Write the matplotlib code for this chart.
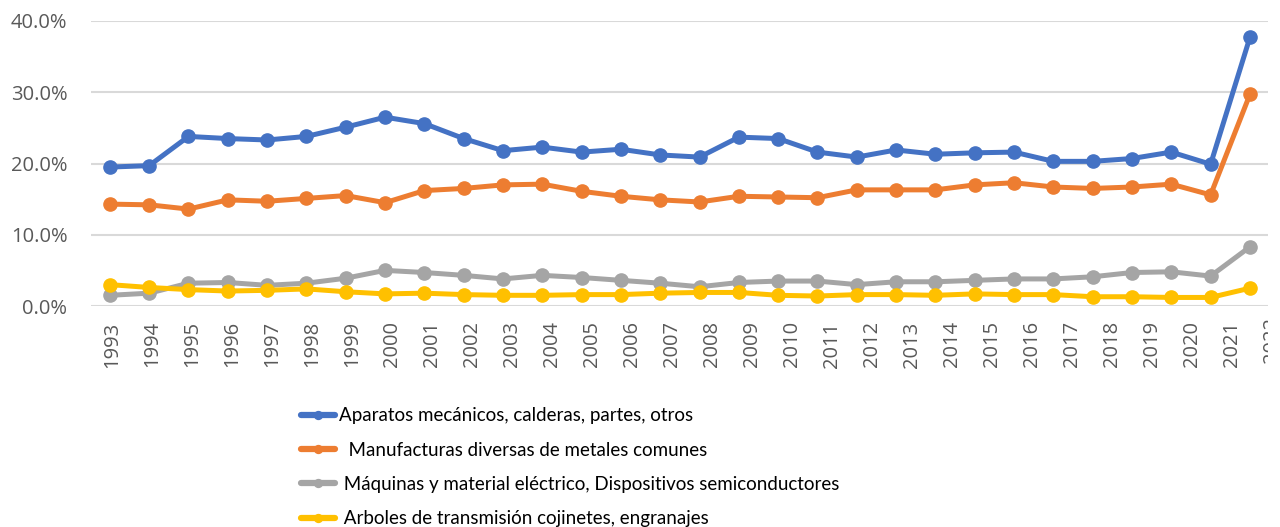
import matplotlib

matplotlib.use("Agg")
import matplotlib.pyplot as plt
from matplotlib.ticker import PercentFormatter
from matplotlib.transforms import Bbox, TransformedBbox
import numpy as np

BLUE = "#4472C4"
ORANGE = "#ED7D31"
GRAY = "#A5A5A5"
YELLOW = "#FFC000"
GRID = "#D9D9D9"
TXT = "#595959"

years = [str(y) for y in range(1993, 2023)]

aparatos = [19.5, 19.7, 23.8, 23.5, 23.3, 23.8, 25.1, 26.5, 25.6, 23.5,
            21.8, 22.3, 21.6, 22.0, 21.2, 20.9, 23.7, 23.5, 21.6, 20.9,
            21.9, 21.3, 21.5, 21.6, 20.3, 20.3, 20.7, 21.6, 19.9, 37.7]
manufacturas = [14.3, 14.2, 13.6, 14.9, 14.7, 15.1, 15.5, 14.5, 16.2, 16.5,
                17.0, 17.1, 16.1, 15.4, 14.9, 14.6, 15.4, 15.3, 15.2, 16.3,
                16.3, 16.3, 17.0, 17.3, 16.7, 16.5, 16.7, 17.1, 15.6, 29.7]
maquinas = [1.5, 1.8, 3.2, 3.3, 2.9, 3.2, 3.9, 5.0, 4.7, 4.3,
            3.8, 4.3, 4.0, 3.6, 3.2, 2.7, 3.3, 3.5, 3.5, 3.0,
            3.4, 3.4, 3.6, 3.8, 3.8, 4.1, 4.7, 4.8, 4.2, 8.3]
arboles = [3.0, 2.6, 2.3, 2.1, 2.2, 2.4, 2.0, 1.7, 1.8, 1.6,
           1.5, 1.5, 1.6, 1.6, 1.8, 1.9, 1.9, 1.5, 1.4, 1.6,
           1.6, 1.5, 1.7, 1.6, 1.6, 1.3, 1.3, 1.2, 1.2, 2.5]

series = [
    ("Aparatos mecánicos, calderas, partes, otros", aparatos, BLUE),
    ("  Manufacturas diversas de metales comunes", manufacturas, ORANGE),
    (" Máquinas y material eléctrico, Dispositivos semiconductores", maquinas, GRAY),
    (" Arboles de transmisión cojinetes, engranajes", arboles, YELLOW),
]

plt.rcParams["font.family"] = ["Open Sans", "DejaVu Sans"]

fig = plt.figure(figsize=(12.8, 5.27), dpi=100, facecolor="white")
ax = fig.add_axes([91 / 1280, 1 - 306 / 527, (1268 - 91) / 1280, 285 / 527])

x = np.arange(len(years))
for label, vals, color in series:
    ax.plot(x, np.array(vals) / 100, color=color, lw=3.6, marker="o",
            ms=9.5, label=label, solid_capstyle="round")

ax.set_ylim(0, 0.4)
ax.set_xlim(-0.48, 29.46)
ax.set_yticks([0, 0.1, 0.2, 0.3, 0.4])
ax.yaxis.set_major_formatter(PercentFormatter(1.0, decimals=1))
ax.grid(axis="y", color=GRID, lw=1.5)
ax.set_axisbelow(True)
for s in ax.spines.values():
    s.set_visible(False)
ax.tick_params(axis="y", length=0, pad=17, labelsize=14.5, labelcolor=TXT)
ax.tick_params(axis="x", length=0, pad=11, labelsize=14.5, labelcolor=TXT)

# category labels are spaced a bit wider than the points in the original
tick_pos = 0.05 + 1.0175 * x
ax.set_xticks(tick_pos[:-1])
ax.set_xticklabels(years[:-1], rotation=90)
last = ax.text(tick_pos[-1], -0.04, years[-1], rotation=90, ha="center",
               va="top", fontsize=14.5, color=TXT,
               transform=ax.get_xaxis_transform())
last.set_clip_box(TransformedBbox(Bbox([[0, 0], [1268 / 1280, 1]]),
                                  fig.transFigure))
last.set_clip_on(True)

leg = fig.legend(loc="upper left", bbox_to_anchor=(292 / 1280, 1 - 398 / 527),
                 frameon=False, borderpad=0, handlelength=1.8,
                 handletextpad=0.2, labelspacing=0.92, markerscale=0.6,
                 prop={"family": ["Lato", "DejaVu Sans"], "size": 13.5})
for line in leg.get_lines():
    line.set_linewidth(4.5)

fig.savefig("out.png", dpi=100, facecolor="white")
